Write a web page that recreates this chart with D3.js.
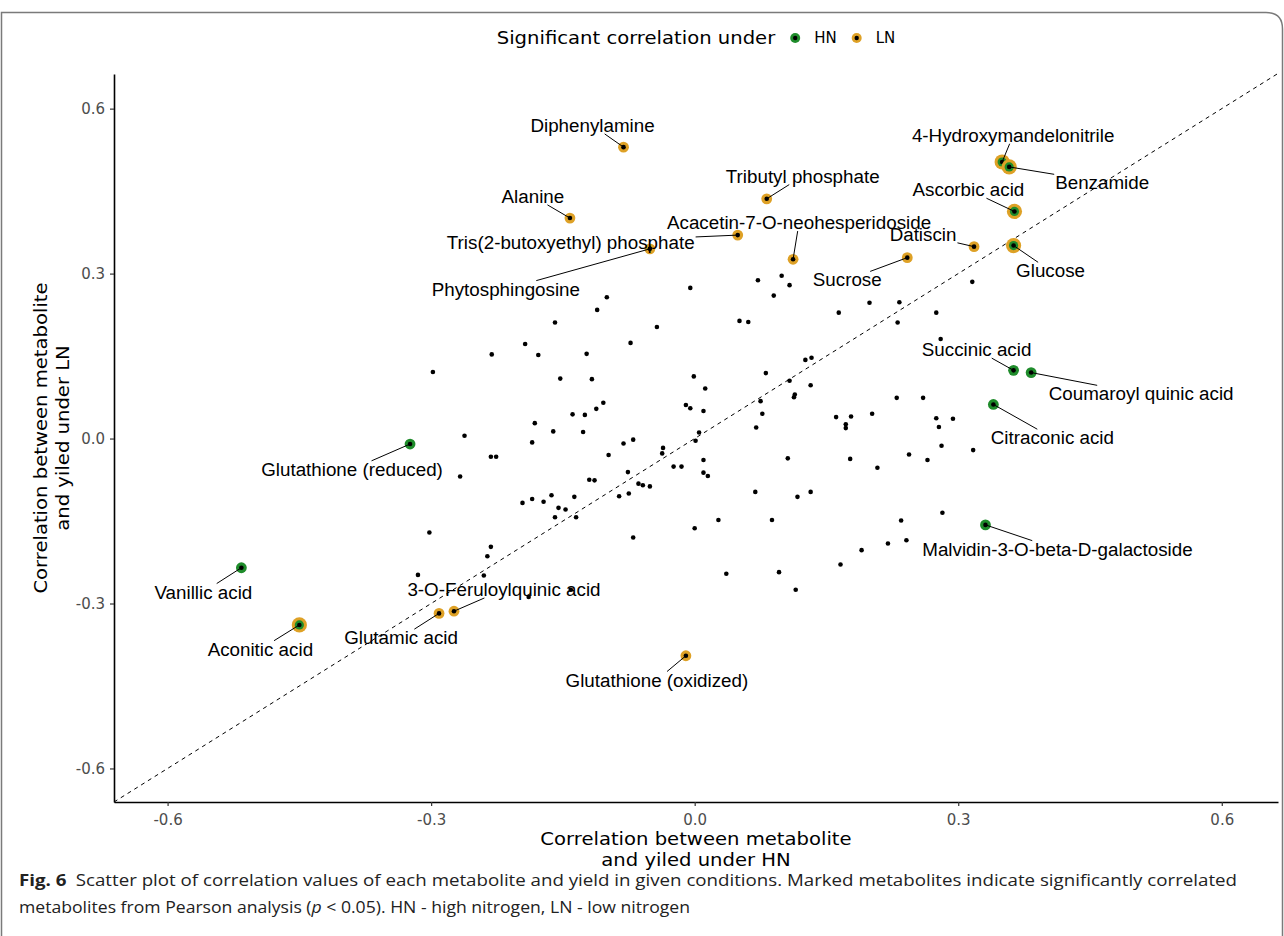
<!DOCTYPE html>
<html>
<head>
<meta charset="utf-8">
<script src="https://cdn.jsdelivr.net/npm/d3@7"></script>
<style>
    body { margin: 0; background: #fff; }
    svg { display: block; }
</style>
</head>
<body>
<div id="scatter"></div>
<script>
// Labelled (significant) metabolites
const names = [
    "Diphenylamine", "Alanine", "Tributyl phosphate", "Tris(2-butoxyethyl) phosphate",
    "Phytosphingosine", "Acacetin-7-O-neohesperidoside", "Sucrose", "Datiscin",
    "4-Hydroxymandelonitrile", "Benzamide", "Ascorbic acid", "Glucose",
    "Succinic acid", "Coumaroyl quinic acid", "Citraconic acid", "Malvidin-3-O-beta-D-galactoside",
    "Glutathione (reduced)", "Vanillic acid", "Aconitic acid", "3-O-Feruloylquinic acid",
    "Glutamic acid", "Glutathione (oxidized)"
];
const hnCorr = [-0.081, -0.142, 0.082, 0.049, -0.051, 0.112, 0.242, 0.318,
    0.350, 0.358, 0.364, 0.363, 0.363, 0.383, 0.340, 0.331,
    -0.324, -0.516, -0.450, -0.274, -0.291, -0.010];
const lnCorr = [0.530, 0.401, 0.436, 0.370, 0.345, 0.326, 0.329, 0.349,
    0.503, 0.494, 0.413, 0.351, 0.124, 0.120, 0.062, -0.157,
    -0.010, -0.235, -0.339, -0.314, -0.318, -0.395];
const sigUnder = ["LN", "LN", "LN", "LN", "LN", "LN", "LN", "LN",
    "both", "both", "both", "both", "HN", "HN", "HN", "HN",
    "HN", "HN", "both", "LN", "LN", "LN"];

// All other metabolites (not significant)
const otherHN = [-0.005, 0.072, 0.108, 0.099, -0.100, 0.090, -0.111, -0.159, -0.043, 0.051,
    0.061, -0.193, -0.073, -0.231, -0.178, -0.123, -0.298, -0.153, -0.117, -0.001,
    0.081, 0.012, 0.108, 0.114, 0.113, -0.010, -0.005, 0.010, 0.075, -0.104,
    -0.112, -0.139, -0.125, 0.077, -0.182, -0.161, -0.127, 0.070, 0.005, 0.001,
    -0.262, -0.185, -0.081, -0.070, -0.036, -0.037, -0.098, -0.232, -0.226, 0.010,
    0.106, -0.267, -0.024, -0.015, -0.076, 0.010, 0.015, -0.120, -0.114, -0.064,
    -0.059, -0.051, -0.075, -0.086, -0.163, 0.069, 0.117, -0.196, -0.185, -0.172,
    -0.137, -0.155, -0.147, -0.159, -0.135, 0.027, 0.088, 0.000, -0.302, -0.070,
    -0.232, -0.236, -0.315, -0.240, 0.036, 0.096, -0.189, -0.141, 0.115, 0.316,
    0.164, 0.199, 0.233, 0.231, 0.275, 0.280, 0.126, 0.133, 0.132, 0.230,
    0.260, 0.161, 0.178, 0.202, 0.172, 0.172, 0.275, 0.294, 0.278, 0.281,
    0.317, 0.177, 0.208, 0.244, 0.265, 0.132, 0.235, 0.282, 0.241, 0.220,
    0.190, 0.166];
const otherLN = [0.274, 0.288, 0.279, 0.296, 0.257, 0.260, 0.234, 0.211, 0.203, 0.214,
    0.212, 0.172, 0.174, 0.153, 0.152, 0.154, 0.121, 0.109, 0.108, 0.113,
    0.119, 0.091, 0.105, 0.080, 0.075, 0.061, 0.055, 0.050, 0.068, 0.065,
    0.054, 0.044, 0.043, 0.045, 0.028, 0.013, 0.012, 0.020, 0.011, -0.004,
    0.005, -0.007, -0.009, -0.002, -0.017, -0.027, -0.030, -0.033, -0.033, -0.039,
    -0.036, -0.069, -0.051, -0.051, -0.061, -0.062, -0.068, -0.075, -0.076, -0.082,
    -0.085, -0.087, -0.100, -0.105, -0.103, -0.097, -0.106, -0.117, -0.110, -0.115,
    -0.106, -0.126, -0.129, -0.143, -0.143, -0.148, -0.148, -0.163, -0.171, -0.180,
    -0.197, -0.214, -0.248, -0.249, -0.246, -0.243, -0.288, -0.275, -0.275, 0.285,
    0.229, 0.247, 0.248, 0.211, 0.229, 0.181, 0.143, 0.147, 0.097, 0.074,
    0.074, 0.039, 0.040, 0.045, 0.026, 0.019, 0.037, 0.036, 0.021, -0.013,
    -0.021, -0.037, -0.053, -0.029, -0.039, -0.097, -0.149, -0.135, -0.185, -0.191,
    -0.203, -0.229];

const xTicks = [-0.6, -0.3, 0, 0.3, 0.6];
const yTicks = [-0.6, -0.3, 0, 0.3, 0.6];
const legendKeys = ["HN", "LN"];

// Where ggrepel put each label: text centre relative to its point (px)
const labelOffset = {
    "Diphenylamine": [-31, -22], "Alanine": [-37, -22], "Tributyl phosphate": [36, -23],
    "Tris(2-butoxyethyl) phosphate": [-167, 7], "Phytosphingosine": [-144, 40],
    "Acacetin-7-O-neohesperidoside": [6, -37], "Sucrose": [-60, 22], "Datiscin": [-51, -12],
    "4-Hydroxymandelonitrile": [11, -27], "Benzamide": [93, 15], "Ascorbic acid": [-46, -22],
    "Glucose": [37, 25], "Succinic acid": [-37, -21], "Coumaroyl quinic acid": [110, 21],
    "Citraconic acid": [59, 33], "Malvidin-3-O-beta-D-galactoside": [72, 24],
    "Glutathione (reduced)": [-58, 25], "Vanillic acid": [-38, 24], "Aconitic acid": [-39, 24],
    "3-O-Feruloylquinic acid": [50, -22], "Glutamic acid": [-38, 24], "Glutathione (oxidized)": [-29, 24]
};

const colHN = "#1f8c2b";
const colLN = "#dea126";

const width = 1284, height = 936;
const panel = {left: 114, right: 1278, top: 74, bottom: 802};
const titleFont = "DejaVu Sans";
const titleSize = 17.5;      // drawn size
const titleStretch = 19.6 / 17.5; // reference glyphs are narrow: keep the width of a 19.6px line

const svg = d3.select("#scatter")
    .append("svg")
    .attr("width", width)
    .attr("height", height);

// Figure frame (journal box)
svg.append("path")
    .attr("d", `M1.5,${height} V12.5 H1266 Q1282.5,12.5 1282.5,29 V${height}`)
    .attr("fill", "none")
    .attr("stroke", "#7a7a7a")
    .attr("stroke-width", 1.5);

// Scales
const x = d3.scaleLinear().domain([-0.661, 0.664]).range([panel.left, panel.right]);
const y = d3.scaleLinear().domain([-0.661, 0.663]).range([panel.bottom, panel.top]);

// y = x reference line
const lo = -0.661, hi = 0.663;
svg.append("line")
    .attr("x1", x(lo)).attr("y1", y(lo))
    .attr("x2", x(hi)).attr("y2", y(hi))
    .attr("stroke", "#000")
    .attr("stroke-width", 1)
    .attr("stroke-dasharray", "4,4");

// Axes
const xAxis = svg.append("g")
    .attr("transform", `translate(0,${panel.bottom})`)
    .call(d3.axisBottom(x).tickValues(xTicks).tickFormat(d => d.toFixed(1))
        .tickSize(4).tickSizeOuter(0).tickPadding(8));

const yAxis = svg.append("g")
    .attr("transform", `translate(${panel.left},0)`)
    .call(d3.axisLeft(y).tickValues(yTicks).tickFormat(d => d.toFixed(1))
        .tickSize(4).tickSizeOuter(0).tickPadding(5));

[xAxis, yAxis].forEach(g => {
    g.select(".domain").attr("stroke", "#000").attr("stroke-width", 1.6);
    g.selectAll(".tick line").attr("stroke", "#333").attr("stroke-width", 1.2);
    g.selectAll(".tick text")
        .attr("fill", "#4d4d4d")
        .style("font-family", titleFont)
        .style("font-size", "15px");
});

// Unlabelled metabolites
svg.append("g")
    .selectAll("circle")
    .data(otherHN.map((d, i) => ({hn: d, ln: otherLN[i]})))
    .enter()
    .append("circle")
    .attr("cx", d => x(d.hn))
    .attr("cy", d => y(d.ln))
    .attr("r", 2.3)
    .attr("fill", "#000");

// Significant metabolites
const sig = names.map((n, i) => ({name: n, hn: hnCorr[i], ln: lnCorr[i], under: sigUnder[i]}));

const sigG = svg.append("g");
sig.forEach(d => {
    const cx = x(d.hn), cy = y(d.ln);
    if (d.under === "LN" || d.under === "both") {
        sigG.append("circle").attr("cx", cx).attr("cy", cy)
            .attr("r", d.under === "both" ? 7.6 : 5.4)
            .attr("fill", colLN);
    }
    if (d.under === "HN" || d.under === "both") {
        sigG.append("circle").attr("cx", cx).attr("cy", cy)
            .attr("r", d.under === "both" ? 4.6 : 5.4)
            .attr("fill", colHN);
    }
    sigG.append("circle").attr("cx", cx).attr("cy", cy).attr("r", 2.3).attr("fill", "#000");
});

// Repelled labels with connector segments
const segG = svg.append("g");
const labG = svg.append("g");
sig.forEach(d => {
    const px = x(d.hn), py = y(d.ln);
    const off = labelOffset[d.name];
    const tx = px + off[0], ty = py + off[1];
    const t = labG.append("text")
        .attr("x", tx)
        .attr("y", ty)
        .attr("dy", "0.36em")
        .attr("text-anchor", "middle")
        .style("font-family", "Liberation Sans, Arial, sans-serif")
        .style("font-size", "18.8px")
        .attr("fill", "#000")
        .text(d.name);
    const bb = t.node().getBBox();
    const hw = bb.width / 2 + 1, hh = bb.height / 2 - 2;
    const cxT = bb.x + bb.width / 2, cyT = bb.y + bb.height / 2;
    // clip the point->centre line at the label box
    const dx = cxT - px, dy = cyT - py;
    const s = Math.min(Math.abs(hw / (dx || 1e-6)), Math.abs(hh / (dy || 1e-6)));
    const ex = cxT - dx * s, ey = cyT - dy * s;
    segG.append("line")
        .attr("x1", px).attr("y1", py)
        .attr("x2", ex).attr("y2", ey)
        .attr("stroke", "#000")
        .attr("stroke-width", 1);
});

// helper: draw a title-font line and stretch it to the reference width
function titleLine(parent, tx, ty, txt, size) {
    const t = parent.append("text")
        .attr("x", tx).attr("y", ty)
        .attr("text-anchor", "middle")
        .style("font-family", titleFont)
        .style("font-size", size + "px")
        .attr("fill", "#000")
        .text(txt);
    const w = t.node().getComputedTextLength();
    t.attr("textLength", w * titleStretch).attr("lengthAdjust", "spacingAndGlyphs");
    return t;
}

// Axis titles
const xMid = (panel.left + panel.right) / 2;
const yMid = (panel.top + panel.bottom) / 2;
titleLine(svg, xMid, 845, "Correlation between metabolite", titleSize);
titleLine(svg, xMid, 866, "and yiled under HN", titleSize);

const yTitle = svg.append("g").attr("transform", "rotate(-90)");
titleLine(yTitle, -yMid, 47, "Correlation between metabolite", titleSize);
titleLine(yTitle, -yMid, 69, "and yiled under LN", titleSize);

// Legend on top
const legend = svg.append("g");
const legTitle = legend.append("text")
    .attr("x", 0).attr("y", 0)
    .attr("dy", "0.35em")
    .style("font-family", titleFont)
    .style("font-size", titleSize + "px")
    .attr("fill", "#000")
    .text("Significant correlation under");
const legW = legTitle.node().getComputedTextLength() * titleStretch;
legTitle.attr("textLength", legW).attr("lengthAdjust", "spacingAndGlyphs");
let cursor = legW + 20;
legendKeys.forEach(k => {
    legend.append("circle").attr("cx", cursor).attr("cy", 0).attr("r", 5)
        .attr("fill", k === "HN" ? colHN : colLN);
    legend.append("circle").attr("cx", cursor).attr("cy", 0).attr("r", 2.2).attr("fill", "#000");
    const lt = legend.append("text")
        .attr("x", cursor + 19).attr("y", 0)
        .attr("dy", "0.35em")
        .style("font-family", titleFont)
        .style("font-size", "15px")
        .attr("fill", "#000")
        .text(k);
    cursor += 19 + lt.node().getComputedTextLength() + 20;
});
legend.attr("transform", `translate(${xMid - (cursor - 20) / 2},38)`);

// Caption
const capFont = "Open Sans, Liberation Sans, sans-serif";
const cap1 = svg.append("text")
    .attr("x", 19).attr("y", 886)
    .attr("textLength", 1218)
    .attr("lengthAdjust", "spacingAndGlyphs")
    .style("font-family", capFont)
    .style("font-size", "16px")
    .attr("fill", "#222");
cap1.append("tspan").style("font-weight", "bold").text("Fig. 6");
cap1.append("tspan").text("\u2002Scatter plot of correlation values of each metabolite and yield in given conditions. Marked metabolites indicate significantly correlated");

const cap2 = svg.append("text")
    .attr("x", 19).attr("y", 913)
    .attr("textLength", 671)
    .attr("lengthAdjust", "spacingAndGlyphs")
    .style("font-family", capFont)
    .style("font-size", "16px")
    .attr("fill", "#222");
cap2.append("tspan").text("metabolites from Pearson analysis (");
cap2.append("tspan").style("font-style", "italic").text("p");
cap2.append("tspan").text(" < 0.05). HN - high nitrogen, LN - low nitrogen");
</script>
</body>
</html>
